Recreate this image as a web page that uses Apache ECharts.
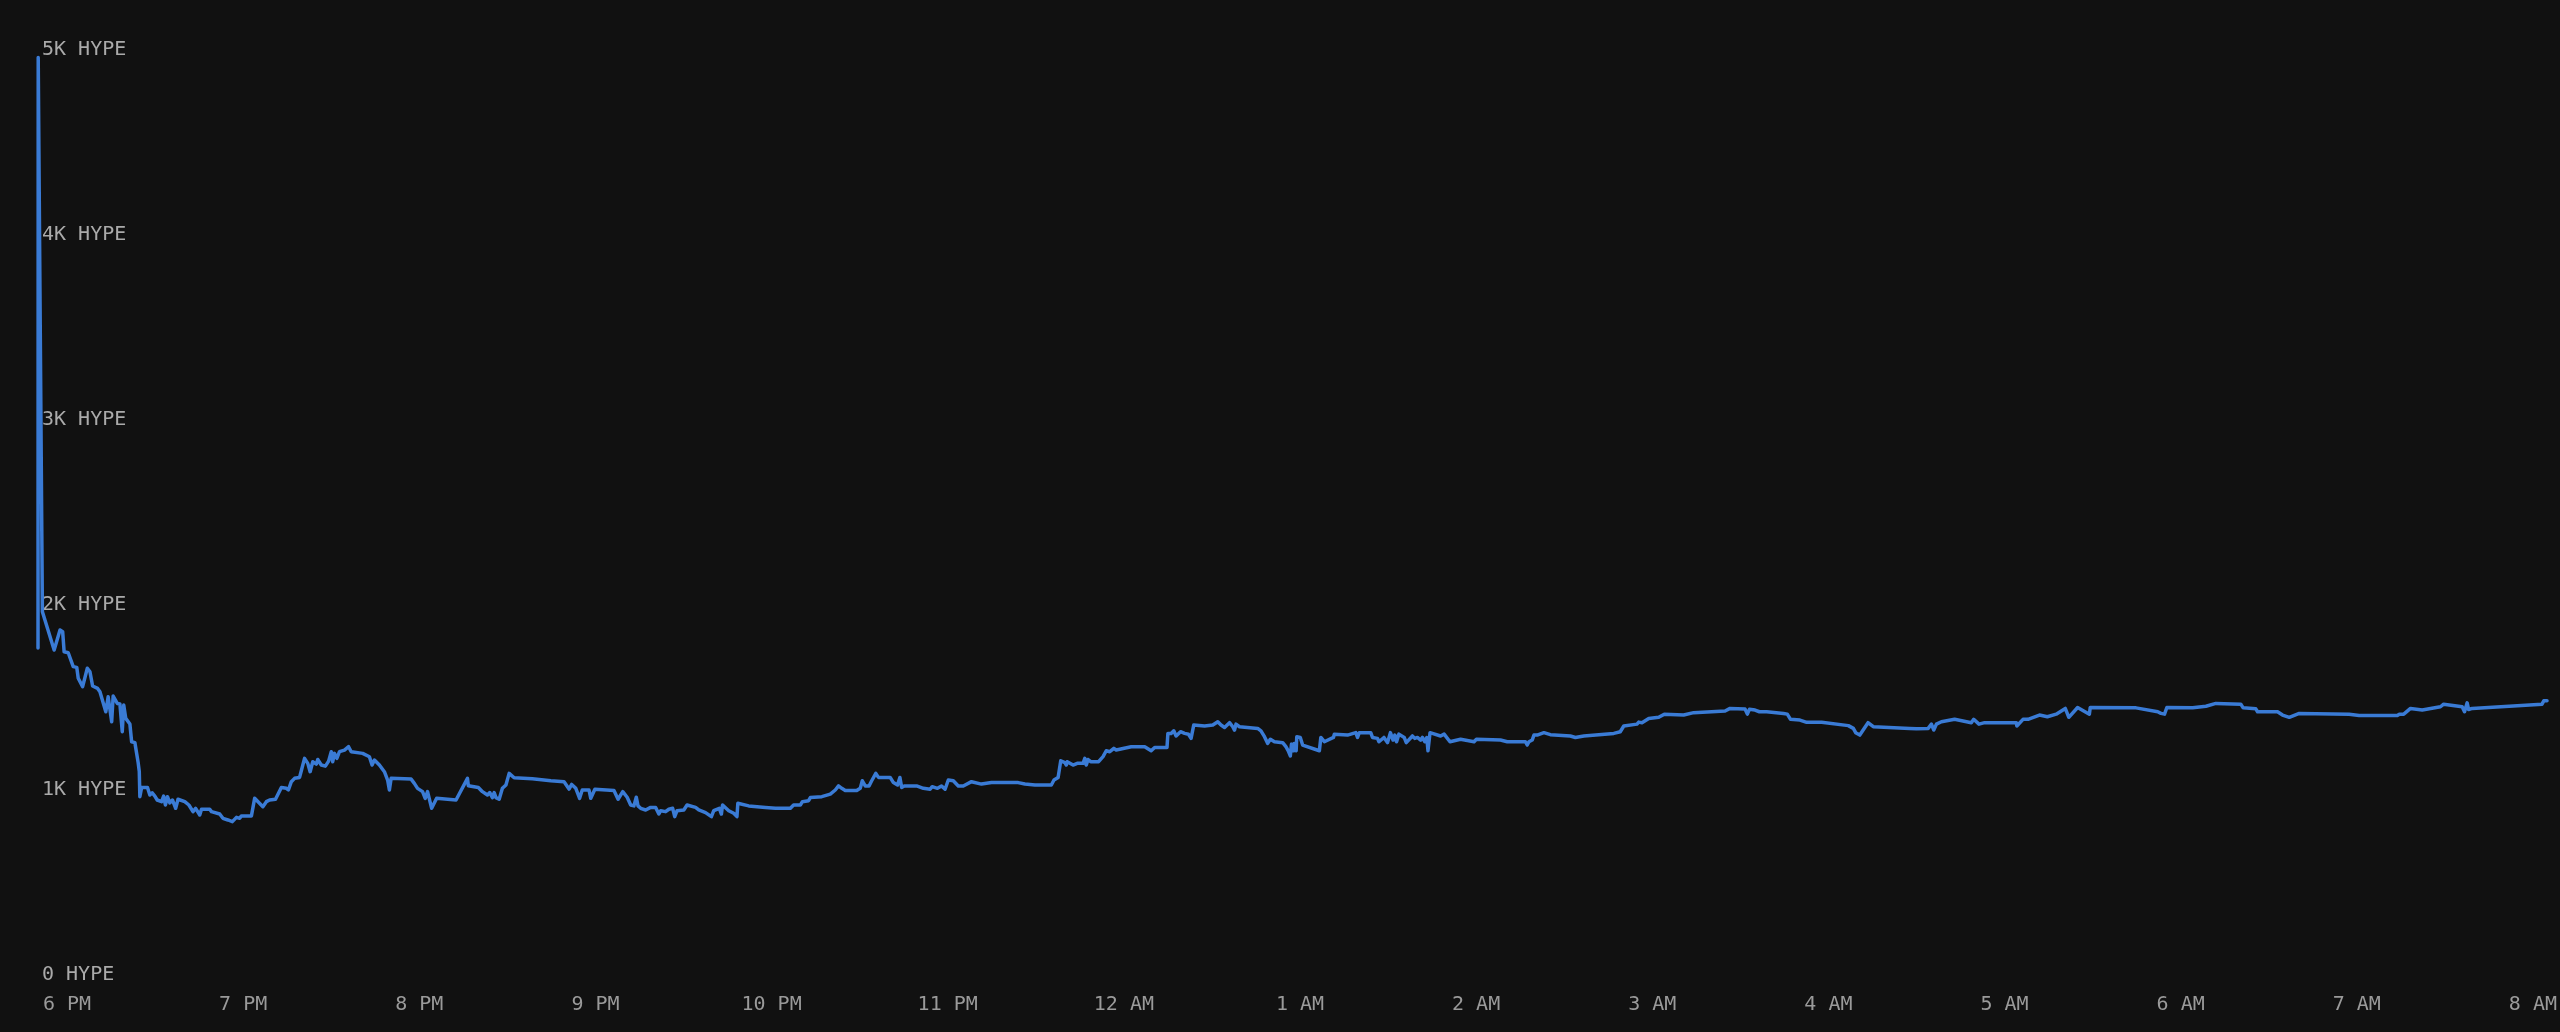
<!DOCTYPE html>
<html>
<head>
<meta charset="utf-8">
<script src="https://cdn.jsdelivr.net/npm/echarts@6/dist/echarts.min.js"></script>
<style>
html,body{margin:0;padding:0;background:#111111;}
#chart{width:2560px;height:1032px;}
</style>
</head>
<body>
<div id="chart"></div>
<script>
// Series starts ~9.9 minutes before 6 PM; minutes are counted from the first point.
const startOffsetMin = -9.9;
const minutes = [
0,0.07,1.5,5.5,7.5,8.4,8.9,10.3,12.0,13.2,13.7,15.2,16.8,17.7,18.6,20.3,21.1,23.1,23.9,25.1,25.6,27.0,27.9,28.7,29.2,29.9,31.3,31.9,33.0,34.1,34.5,
34.7,35.3,37.3,38.1,38.9,39.8,40.6,42.1,42.8,43.4,44.1,44.9,45.8,46.9,47.7,50.0,51.4,52.8,53.7,55.1,55.7,58.5,59.1,61.9,63.0,64.7,66.2,67.6,68.7,69.3,
72.7,73.8,75.2,76.6,77.8,78.9,80.9,82.9,84.6,85.3,86.3,87.4,89.1,89.7,90.8,91.9,92.7,93.6,94.8,95.3,96.5,97.9,99.0,99.9,100.4,101.0,101.8,102.7,104.4,105.8,
106.7,110.6,112.9,113.8,114.6,116.3,118.0,119.1,119.7,120.3,127.1,128.2,129.3,131.0,131.9,132.7,134.1,135.8,142.4,146.3,146.6,150.0,151.4,153.1,153.9,154.8,155.4,156.0,157.1,
158.2,159.4,160.5,162.2,168.4,174.7,179.2,180.9,181.8,183.2,184.5,185.4,187.7,188.3,189.7,196.2,
197.6,199.2,200.7,201.9,203.0,203.8,204.4,205.3,207.0,208.7,210.4,211.5,212.1,213.8,214.9,216.2,216.9,217.7,220.0,221.1,224.0,225.1,227.4,229.4,230.2,232.1,232.8,233.2,235.3,237.0,238.1,238.4,
242.1,247.8,251.2,256.3,257.4,259.7,260.4,262.5,263.1,267.0,269.9,271.6,272.7,273.8,275.0,278.9,280.1,280.8,281.8,283.1,284.0,285.4,286.3,290.3,291.4,292.8,293.6,294.2,295.1,299.3,
301.6,303.9,304.6,306.4,307.8,309.0,310.1,311.8,313.5,315.2,318.0,321.4,324.8,333.9,
336.2,339.6,345.2,346.1,347.5,348.4,349.8,350.3,350.6,352.6,354.0,356.0,356.6,357.1,357.7,358.6,361.3,362.8,363.9,365.1,366.5,367.3,372.4,377.0,379.2,380.4,384.6,384.9,386.0,386.9,
387.7,389.2,390.6,391.9,392.8,393.7,397.4,400.2,401.9,403.0,404.2,405.9,407.0,407.6,408.1,409.3,415.5,416.6,417.8,418.9,419.8,421.2,424.0,425.1,425.9,426.6,427.0,427.7,427.9,428.6,428.8,
430.0,430.8,436.5,437.0,438.2,441.3,441.6,446.1,448.9,449.5,450.1,454.0,454.6,456.3,456.8,458.5,459.7,460.7,461.6,462.2,462.8,463.6,465.4,466.1,468.2,469.0,469.9,471.0,471.6,472.4,473.1,473.5,474.2,
477.8,479.0,481.0,484.6,489.2,490.0,498.2,500.5,506.7,507.3,507.9,509.0,509.6,510.7,
513.0,515.2,522.0,523.7,526.6,536.8,539.0,540.2,544.7,545.3,546.4,548.7,552.1,554.0,560.6,564.0,574.7,576.4,581.5,582.3,583.0,584.9,586.4,588.9,594.6,595.9,597.0,600.2,602.5,607.6,
616.7,618.4,619.2,620.6,623.4,625.2,637.6,639.9,643.9,645.0,645.8,646.7,648.4,652.9,658.6,659.4,661.2,663.1,673.9,674.1,676.2,677.9,681.8,684.5,687.5,
690.6,691.8,694.8,698.8,699.1,714.7,715.3,722.1,723.2,724.4,725.2,734.0,738.5,741.9,750.4,751.2,755.5,756.1,762.9,764.6,766.9,770.3,787.3,790.7,803.7,804.4,805.9,808.2,812.2,
818.4,819.5,825.8,826.6,827.5,828.0,829.2,853.0,853.6,854.7
];
const hype = [
1767,4960,1964,1757,1865,1856,1747,1742,1667,1663,1604,1559,1658,1639,1562,1549,1531,1423,1504,1369,1508,1468,1465,1315,1459,1387,1357,1261,1256,1150,1100,
964,1014,1014,973,985,967,946,937,967,919,964,930,946,901,950,937,919,883,901,865,896,896,883,870,847,838,829,852,847,860,
860,955,932,910,937,946,950,1014,1009,1000,1045,1063,1068,1104,1171,1144,1099,1153,1140,1165,1135,1129,1156,1207,1153,1198,1171,1207,1216,1234,
1207,1198,1180,1135,1162,1135,1099,1054,1000,1063,1059,1036,1009,991,955,991,901,955,946,1063,1023,1014,991,973,986,959,986,959,950,
1009,1027,1090,1066,1061,1050,1045,1005,1030,1009,955,1000,1000,955,1004,997,
950,991,961,919,914,961,914,901,892,906,906,870,888,883,896,901,856,888,892,919,906,892,878,856,888,901,870,919,888,874,856,928,
914,906,901,901,919,919,937,942,959,964,978,1000,1022,1009,997,997,1009,1050,1022,1022,1050,1090,1068,1068,1040,1027,1068,1014,1022,1022,
1009,1004,1018,1009,1022,1004,1054,1050,1022,1022,1045,1032,1040,1040,
1032,1027,1027,1054,1068,1158,1148,1135,1153,1135,1144,1144,1171,1135,1165,1153,1153,1180,1212,1207,1225,1216,1234,1234,1212,1230,1230,1306,1306,1320,
1292,1315,1306,1301,1279,1351,1346,1351,1369,1351,1338,1364,1342,1324,1356,1342,1333,1320,1288,1252,1274,1261,1256,1234,1212,1184,1248,1212,1252,1212,1288,
1284,1243,1212,1284,1261,1284,1302,1297,1310,1284,1310,1310,1284,1279,1261,1284,1256,1310,1270,1297,1261,1302,1284,1256,1292,1279,1284,1270,1284,1261,1284,1212,1310,
1292,1302,1261,1274,1261,1274,1270,1261,1261,1243,1261,1270,1297,1297,
1310,1299,1292,1284,1292,1306,1315,1346,1356,1367,1364,1387,1393,1410,1405,1418,1427,1441,1438,1410,1436,1432,1423,1423,1414,1410,1382,1378,1366,1366,
1348,1333,1310,1297,1364,1342,1333,1331,1333,1356,1324,1356,1369,1382,1364,1382,1356,1364,1364,1346,1382,1382,1405,1396,1410,
1441,1393,1446,1410,1446,1444,1453,1423,1414,1410,1446,1444,1453,1468,1464,1444,1439,1423,1423,1405,1393,1414,1410,1403,1403,1410,1410,1441,1432,
1450,1464,1450,1423,1471,1435,1441,1464,1482,1482
];
const yTicks = [0, 1000, 2000, 3000, 4000, 5000];
const yTickLabels = ['0 HYPE', '1K HYPE', '2K HYPE', '3K HYPE', '4K HYPE', '5K HYPE'];
const xTickLabels = ['6 PM','7 PM','8 PM','9 PM','10 PM','11 PM','12 AM','1 AM','2 AM','3 AM','4 AM','5 AM','6 AM','7 AM','8 AM'];

const MIN = 60 * 1000;
const sixPM = new Date(2024, 0, 1, 18, 0, 0).getTime();
const t0 = sixPM + startOffsetMin * MIN;
const data = minutes.map((m, i) => [t0 + m * MIN, hype[i]]);

const chart = echarts.init(document.getElementById('chart'), null, {renderer: 'canvas'});
const FONT = '"DejaVu Sans Mono", monospace';
chart.setOption({
  backgroundColor: '#111111',
  animation: false,
  grid: {left: 38, right: 9, top: 50, bottom: 57, containLabel: false},
  xAxis: {
    type: 'time', min: t0, max: t0 + minutes[minutes.length - 1] * MIN,
    minInterval: 3600 * 1000, maxInterval: 3600 * 1000,
    axisLine: {show: false}, axisTick: {show: false}, splitLine: {show: false},
    axisLabel: {
      color: '#9a9a9a', fontFamily: FONT, fontSize: 20, fontWeight: 'normal', margin: 20,
      showMinLabel: false, showMaxLabel: false, hideOverlap: false,
      formatter: function (v) {
        const off = Math.round((v - sixPM) / MIN);
        if (Math.abs((v - sixPM) / MIN - off) > 1e-6 || off % 60 !== 0) return '';
        return xTickLabels[off / 60] || '';
      }
    }
  },
  yAxis: {
    type: 'value', min: 0, max: 5000, interval: 1000,
    axisLine: {show: false}, axisTick: {show: false}, splitLine: {show: false},
    axisLabel: {
      inside: true, color: '#aaaaaa', fontFamily: FONT, fontSize: 20, margin: 4,
      formatter: v => { const i = yTicks.indexOf(v); return i >= 0 ? yTickLabels[i] : ''; }
    }
  },
  series: [{
    type: 'line', data: data, showSymbol: false, symbol: 'none',
    lineStyle: {color: '#3a7bd5', width: 3.5, join: 'round', cap: 'round'}, z: 1
  }]
});
</script>
</body>
</html>
